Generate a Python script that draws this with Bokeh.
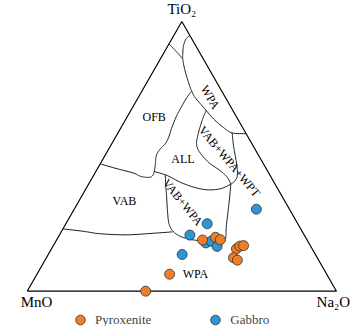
import math
from bokeh.plotting import figure
from bokeh.models import Range1d, Legend, LegendItem
from bokeh.core.properties import value
from bokeh.embed import file_html
from bokeh.resources import INLINE

FONT = "Liberation Serif"

# ---- sample compositions (normalised %, TiO2 / MnO / Na2O) ----
pyx_tio2 = [0.0, 6.3, 19.0, 20.0, 19.1, 15.7, 16.7, 16.9, 12.4, 11.5]
pyx_mno  = [61.7, 50.8, 33.8, 29.1, 28.0, 24.5, 22.9, 21.6, 27.1, 26.3]
pyx_na2o = [38.3, 42.9, 47.2, 50.9, 52.9, 59.8, 60.4, 61.5, 60.5, 62.2]

gab_tio2 = [30.4, 25.0, 20.8, 17.9, 18.5, 16.6, 13.6]
gab_mno  = [10.7, 29.3, 37.0, 33.3, 31.3, 30.3, 43.1]
gab_na2o = [58.9, 45.7, 42.2, 48.8, 50.2, 53.1, 43.3]

# ---- field boundaries, (TiO2 %, Na2O %) pairs ----
bd_top_left = [(91.7, 0.0), (89.9, 2.4), (88.0, 4.9), (86.3, 7.0)]
bd_wpa_inner = [(94.8, 5.2), (93.6, 4.6), (91.1, 5.0), (88.0, 6.3), (86.2, 7.2),
                (83.1, 9.2), (79.3, 12.0), (75.6, 14.9), (74.2, 16.1)]
bd_wpa_lower = [(74.2, 16.1), (71.8, 18.4), (68.2, 22.9), (63.9, 28.3),
                (60.7, 33.1), (58.7, 36.9), (58.4, 41.6)]
bd_ofb = [(74.2, 16.1), (71.8, 15.7), (67.6, 15.7), (65.1, 15.8), (60.8, 16.4),
          (57.1, 17.2), (54.7, 17.3), (52.5, 16.6), (50.3, 16.6), (47.3, 17.8),
          (44.4, 18.9), (42.7, 19.1), (42.2, 18.1), (42.6, 15.3), (43.8, 12.5),
          (45.4, 6.4), (47.2, 0.0)]
bd_all_lower = [(44.4, 18.9), (42.9, 23.8), (40.4, 29.3), (38.6, 34.5),
                (37.6, 39.3), (38.0, 43.5), (39.7, 46.0)]
bd_wpt_left = [(67.0, 24.4), (64.4, 24.7), (61.1, 25.4), (57.7, 26.3), (54.7, 27.4),
               (52.2, 29.3), (49.7, 32.2), (47.3, 35.5), (44.6, 40.2), (42.2, 43.6),
               (39.7, 46.0)]
bd_wpt_right = [(58.7, 36.9), (54.0, 39.7), (50.3, 42.1), (46.6, 44.5),
                (42.9, 46.5), (40.9, 46.7), (39.7, 46.0)]
bd_vabwpa_right = [(39.7, 46.0), (34.9, 48.0), (28.7, 50.5), (23.7, 52.5),
                   (20.3, 54.1), (18.6, 54.6)]
bd_vabwpa_left = [(43.1, 23.1), (39.2, 25.2), (35.5, 27.3), (29.9, 30.4), (25.5, 33.0),
                  (22.9, 35.2), (21.2, 37.6), (19.9, 40.5), (19.0, 44.3), (18.5, 50.0),
                  (18.6, 54.6)]
bd_vab_lower = [(23.1, 0.0), (22.2, 7.1), (21.3, 13.0), (20.9, 21.9),
                (21.5, 30.2), (22.0, 36.0)]

boundaries = [bd_top_left, bd_wpa_inner, bd_wpa_lower, bd_ofb, bd_all_lower,
              bd_wpt_left, bd_wpt_right, bd_vabwpa_right, bd_vabwpa_left, bd_vab_lower]

# field labels: (text, TiO2 %, Na2O %, angle deg)
field_labels = [("OFB", 64.5, 8.8, 0), ("WPA", 71.9, 23.2, -60), ("ALL", 49.1, 25.8, 0),
                ("VAB+WPA+WPT", 48.1, 41.3, -50), ("VAB+WPA", 33.0, 33.8, -51),
                ("VAB", 33.3, 14.8, 0), ("WPA", 6.2, 51.3, 0)]

H = math.sqrt(3) / 2


def tern(ti, na):
    return na / 100.0 + ti / 200.0, ti / 100.0 * H


def tern_xy(ti_list, na_list):
    xs, ys = [], []
    for t, n in zip(ti_list, na_list):
        x, y = tern(t, n)
        xs.append(x)
        ys.append(y)
    return xs, ys


def smooth(pts, n=8):
    # Catmull-Rom rendering of a boundary polyline
    if len(pts) < 3:
        return pts
    out = []
    P = [pts[0]] + pts + [pts[-1]]
    for i in range(1, len(P) - 2):
        p0, p1, p2, p3 = P[i - 1], P[i], P[i + 1], P[i + 2]
        for k in range(n):
            t = k / n
            t2, t3 = t * t, t * t * t
            x = 0.5 * (2 * p1[0] + (-p0[0] + p2[0]) * t + (2 * p0[0] - 5 * p1[0] + 4 * p2[0] - p3[0]) * t2
                       + (-p0[0] + 3 * p1[0] - 3 * p2[0] + p3[0]) * t3)
            y = 0.5 * (2 * p1[1] + (-p0[1] + p2[1]) * t + (2 * p0[1] - 5 * p1[1] + 4 * p2[1] - p3[1]) * t2
                       + (-p0[1] + 3 * p1[1] - 3 * p2[1] + p3[1]) * t3)
            out.append((x, y))
    out.append(pts[-1])
    return out


p = figure(width=350, height=326, output_backend="svg", toolbar_location=None,
           x_range=Range1d(-0.0863, 1.0453), y_range=Range1d(-0.1134, 0.9335),
           min_border=0, outline_line_color=None)
p.axis.visible = False
p.grid.visible = False
p.background_fill_color = "white"

# triangle
tx, ty = tern_xy([0, 0, 100, 0], [0, 100, 0, 0])
p.line(tx, ty, line_color="black", line_width=1.2)

# boundaries
for bd in boundaries:
    xy = [tern(t, n) for t, n in bd]
    sm = smooth(xy)
    p.line([a for a, b in sm], [b for a, b in sm], line_color="#1a1a1a", line_width=1)

# field labels
for txt, t, n, ang in field_labels:
    x, y = tern(t, n)
    p.text(x=[x], y=[y], text=[txt], angle=math.radians(ang),
           text_font=value(FONT), text_font_size="12px", text_color="black",
           text_align="center", text_baseline="middle")

# apex labels
for txt, t, n, dx, dy in [("TiO₂", 100, 0, 0.0, 0.041), ("MnO", 0, 0, 0.03, -0.035),
                          ("Na₂O", 0, 100, -0.01, -0.035)]:
    x, y = tern(t, n)
    p.text(x=[x + dx], y=[y + dy], text=[txt], text_font=value(FONT),
           text_font_size="15px", text_color="black",
           text_align="center", text_baseline="middle")

gx, gy = tern_xy(gab_tio2, gab_na2o)
px_, py_ = tern_xy(pyx_tio2, pyx_na2o)
r_gab = p.scatter(gx, gy, size=10, fill_color="#2B97D4", line_color="#333333", line_width=0.8)
r_pyx = p.scatter(px_, py_, size=10, fill_color="#F07E26", line_color="#333333", line_width=0.8)

legend = Legend(items=[LegendItem(label="Pyroxenite", renderers=[r_pyx]),
                       LegendItem(label="Gabbro", renderers=[r_gab])],
                orientation="horizontal", location=(68, -6),
                label_text_font=FONT, label_text_font_size="13px",
                label_height=14, label_text_baseline="middle",
                glyph_width=24, glyph_height=25, label_standoff=3, spacing=52,
                padding=0, margin=0, border_line_alpha=0, background_fill_alpha=0)
p.add_layout(legend)

open("out.html", "w").write(file_html(p, INLINE))
